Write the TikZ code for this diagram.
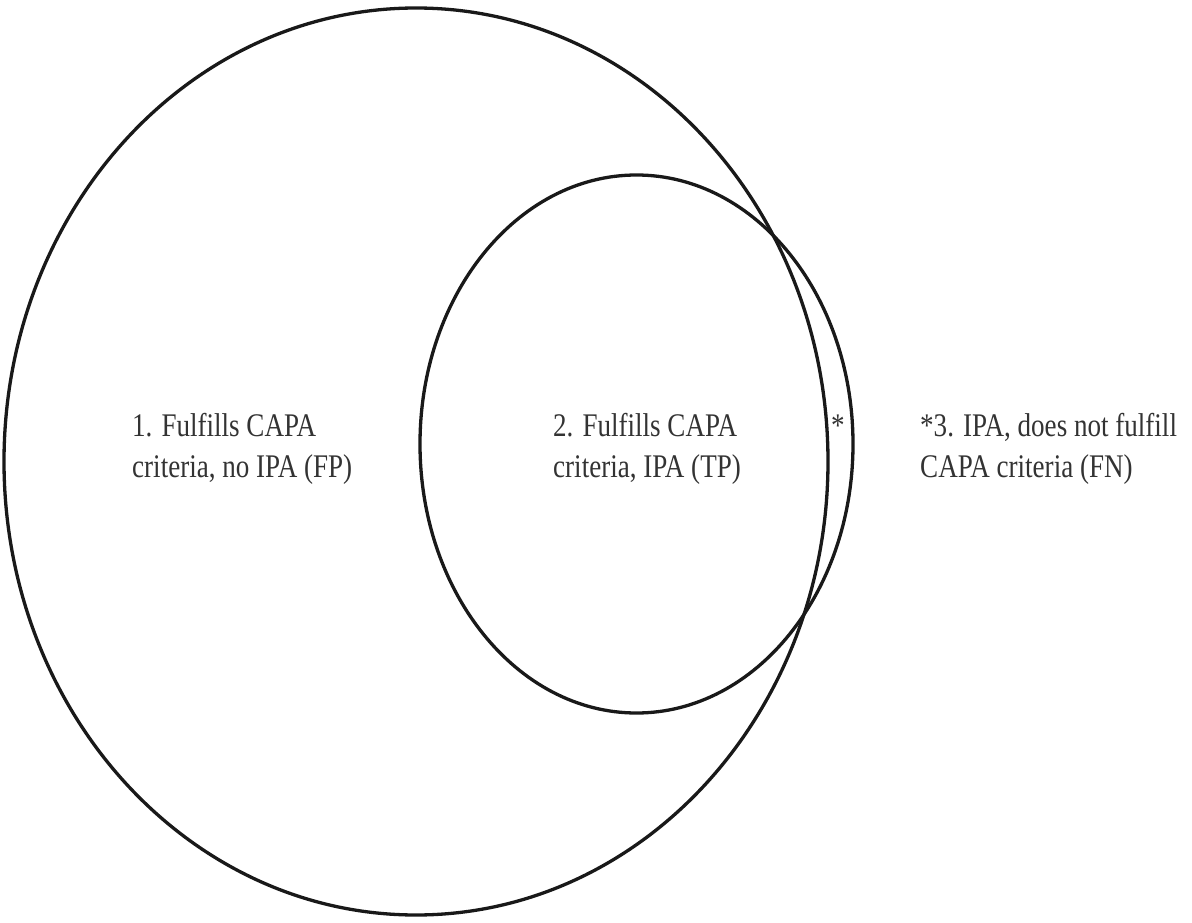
\documentclass[tikz,border=0pt]{standalone}
\usepackage{fontspec}
\usetikzlibrary{shapes.geometric}
\setmainfont{Liberation Serif}[FakeStretch=0.82]
\begin{document}
\begin{tikzpicture}[x=1pt,y=-1pt,
  setline/.style={ellipse, draw=black!90, line width=3.3pt, inner sep=0pt},
  lbl/.style={anchor=base west, align=left, text=black!80, font=\fontsize{33}{41}\selectfont, inner sep=0pt}]
\useasboundingbox (0,0) rectangle (1192,923);
\node[setline, minimum width=824pt, minimum height=907pt] (big) at (416,461.5) {};
\node[setline, minimum width=433pt, minimum height=538pt] (small) at (636.5,444) {};
\node[lbl] (t1) at (132,477) {1. Fulfills CAPA\\criteria, no IPA (FP)};
\node[lbl] (t2) at (553,477) {2. Fulfills CAPA\\criteria, IPA (TP)};
\node[lbl] (t3) at (920,477) {*3. IPA, does not fulfill\\CAPA criteria (FN)};
\node[lbl] (star) at (831,436) {*};
\end{tikzpicture}
\end{document}
